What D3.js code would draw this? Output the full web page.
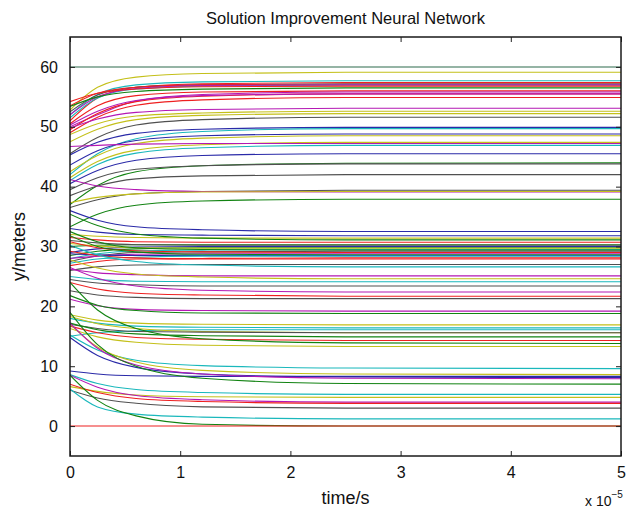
<!DOCTYPE html>
<html>
<head>
<meta charset="utf-8">
<script src="https://cdn.jsdelivr.net/npm/d3@7/dist/d3.min.js"></script>
<style>
  body { margin: 0; background: #fff; }
  svg { display: block; font-family: "Liberation Sans", Arial, sans-serif; }
</style>
</head>
<body>
<svg id="chart" width="627" height="509"></svg>
<script>
const timeSamples = [0, 0.25, 0.6, 1.2, 2.5, 5];
const xTicks = [0, 1, 2, 3, 4, 5];
const yTicks = [0, 10, 20, 30, 40, 50, 60];

// MATLAB colour letters
const palette = {
    b: '#2a2aa8', g: '#128312', r: '#ee2020', c: '#1ab8bc',
    m: '#b418b4', y: '#c4c01a', k: '#505050', d: '#2c6a4c'
};

const colorKeys = [
    'd', 'y', 'c', 'r', 'k', 'r', 'c', 'm', 'r', 'g', 'r', 'm', 'r', 'm', 'r',
    'm', 'y', 'y', 'k', 'b', 'c', 'b', 'y', 'y', 'm', 'c', 'b', 'g', 'k', 'k',
    'k', 'm', 'y', 'g',
    'b', 'b', 'y', 'g', 'r', 'g', 'k', 'b', 'g', 'y', 'c', 'g', 'k', 'r', 'm',
    'g', 'b', 'c', 'r', 'r', 'k', 'c', 'm', 'y', 'c', 'k', 'm', 'r', 'k',
    'm', 'g', 'y', 'c', 'c', 'y', 'k', 'g', 'r', 'g', 'y',
    'c', 'y', 'b', 'b', 'm', 'g', 'c', 'y', 'm', 'r', 'k', 'c', 'g', 'r'
];

const seriesValues = [
    [60, 60, 60, 60, 60, 60],
    [52.8, 56.6, 58.3, 58.9, 59.1, 59.1],
    [52.0, 55.4, 57.0, 57.5, 57.7, 57.7],
    [51.0, 54.8, 56.6, 57.2, 57.4, 57.4],
    [52.5, 55.3, 56.6, 57.0, 57.2, 57.2],
    [53.5, 55.6, 56.6, 57.0, 57.1, 57.1],
    [51.5, 54.8, 56.3, 56.8, 57.0, 57.0],
    [52.0, 55.0, 56.4, 56.9, 57.0, 57.0],
    [54.2, 55.6, 56.3, 56.7, 56.8, 56.8],
    [53.4, 55.0, 55.9, 56.3, 56.5, 56.5],
    [50.5, 53.5, 55.2, 55.8, 56.0, 56.0],
    [50.0, 52.0, 54.3, 55.4, 55.8, 55.8],
    [49.5, 52.2, 54.2, 55.1, 55.5, 55.5],
    [50.3, 52.6, 54.4, 55.2, 55.5, 55.5],
    [49.0, 51.6, 53.6, 54.5, 54.9, 54.9],
    [49.8, 51.3, 52.4, 52.9, 53.1, 53.1],
    [48.7, 50.5, 51.8, 52.3, 52.6, 52.6],
    [47.5, 49.6, 51.2, 51.9, 52.2, 52.2],
    [45.5, 48.2, 50.3, 51.2, 51.6, 51.6],
    [45.3, 47.4, 48.9, 49.6, 49.9, 49.9],
    [42.0, 45.5, 48.0, 49.2, 49.7, 49.7],
    [43.6, 46.0, 47.7, 48.5, 48.8, 48.8],
    [42.5, 45.2, 47.2, 48.1, 48.5, 48.5],
    [41.5, 44.2, 46.1, 47.0, 47.4, 47.4],
    [46.7, 46.9, 47.1, 47.2, 47.2, 47.2],
    [41.0, 43.7, 45.6, 46.5, 46.9, 46.9],
    [40.5, 42.7, 44.4, 45.2, 45.5, 45.5],
    [37.0, 40.2, 42.5, 43.5, 43.9, 44.0],
    [39.5, 41.5, 42.9, 43.5, 43.8, 43.8],
    [38.5, 40.1, 41.3, 41.8, 42.0, 42.0],
    [36.5, 37.8, 38.8, 39.2, 39.4, 39.4],
    [41.2, 40.1, 39.5, 39.2, 39.1, 39.1],
    [37.3, 38.2, 38.8, 39.1, 39.2, 39.2],
    [33.3, 35.4, 36.9, 37.6, 37.9, 37.9],
    // middle cluster
    [36.0, 34.4, 33.3, 32.8, 32.5, 32.5],
    [33.0, 32.4, 32.0, 31.9, 31.8, 31.8],
    [32.0, 31.7, 31.5, 31.4, 31.4, 31.4],
    [35.4, 33.5, 32.1, 31.4, 31.1, 31.1],
    [31.5, 31.1, 30.8, 30.7, 30.7, 30.7],
    [30.0, 30.2, 30.3, 30.3, 30.3, 30.3],
    [31.0, 30.6, 30.3, 30.2, 30.2, 30.2],
    [29.0, 29.6, 29.9, 30.0, 30.0, 30.0],
    [28.5, 29.2, 29.6, 29.8, 29.8, 29.8],
    [30.5, 30.1, 29.8, 29.7, 29.7, 29.7],
    [28.0, 28.8, 29.3, 29.4, 29.5, 29.5],
    [32.5, 30.8, 29.8, 29.5, 29.4, 29.4],
    [27.5, 28.4, 29.0, 29.1, 29.2, 29.2],
    [30.8, 29.8, 29.3, 29.1, 29.0, 29.0],
    [28.0, 28.4, 28.7, 28.8, 28.8, 28.8],
    [31.8, 30.0, 29.1, 28.7, 28.6, 28.6],
    [28.8, 28.6, 28.5, 28.5, 28.5, 28.5],
    [27.2, 27.9, 28.2, 28.4, 28.4, 28.4],
    [26.8, 27.5, 27.9, 28.0, 28.1, 28.1],
    [29.2, 28.5, 28.1, 27.9, 27.9, 27.9],
    [26.0, 26.6, 26.9, 27.0, 27.0, 27.0],
    [30.2, 28.6, 27.5, 26.9, 26.6, 26.6],
    [26.2, 25.6, 25.3, 25.1, 25.1, 25.1],
    [27.8, 26.4, 25.4, 24.9, 24.6, 24.6],
    [25.0, 24.5, 24.2, 24.1, 24.1, 24.1],
    [24.5, 23.9, 23.6, 23.4, 23.4, 23.4],
    [26.5, 24.7, 23.4, 22.7, 22.4, 22.4],
    [24.0, 22.9, 22.2, 21.9, 21.7, 21.7],
    [22.6, 21.9, 21.5, 21.3, 21.3, 21.3],
    // lower group
    [21.2, 20.1, 19.5, 19.3, 19.2, 19.2],
    [21.8, 20.2, 19.3, 18.9, 18.8, 18.8],
    [18.6, 17.7, 17.2, 17.0, 16.9, 16.9],
    [18.0, 17.2, 16.7, 16.5, 16.4, 16.4],
    [15.0, 15.6, 15.9, 16.1, 16.1, 16.1],
    [18.3, 17.1, 16.3, 15.8, 15.6, 15.6],
    [17.0, 16.3, 15.8, 15.7, 15.6, 15.6],
    [17.2, 16.1, 15.4, 15.1, 14.9, 14.9],
    [16.7, 15.6, 14.8, 14.5, 14.3, 14.3],
    [24.0, 19.4, 16.3, 14.6, 13.9, 13.8],
    [16.3, 14.9, 14.0, 13.5, 13.3, 13.3],
    [15.2, 12.7, 11.0, 10.1, 9.7, 9.6],
    [17.0, 13.2, 10.7, 9.3, 8.7, 8.6],
    [9.2, 8.7, 8.4, 8.3, 8.3, 8.3],
    [14.8, 11.8, 9.8, 8.7, 8.2, 8.1],
    [17.2, 13.0, 10.2, 8.7, 8.0, 7.9],
    [19.0, 13.6, 10.0, 8.0, 7.1, 7.0],
    [8.6, 7.1, 6.1, 5.6, 5.3, 5.3],
    [6.6, 5.8, 5.2, 4.9, 4.8, 4.8],
    [8.5, 6.5, 5.1, 4.4, 4.0, 4.0],
    [7.0, 5.6, 4.6, 4.1, 3.8, 3.8],
    [6.0, 4.7, 3.8, 3.2, 3.0, 3.0],
    [6.2, 3.2, 2.0, 1.5, 1.2, 1.2],
    [8.5, 4.3, 1.7, 0.3, 0, 0],
    [0, 0, 0, 0, 0, 0]
];

const svg = d3.select('#chart');
const margin = { left: 70, right: 6, top: 37, bottom: 53 };
const width = 627 - margin.left - margin.right;
const height = 509 - margin.top - margin.bottom;

const x = d3.scaleLinear().domain([0, 5]).range([0, width]);
const y = d3.scaleLinear().domain([-5, 65]).range([height, 0]);

const g = svg.append('g')
    .attr('transform', `translate(${margin.left},${margin.top})`);

// Clip lines to the axes box
g.append('clipPath').attr('id', 'plot-clip')
    .append('rect').attr('width', width).attr('height', height);

const line = d3.line()
    .x((d, i) => x(timeSamples[i]))
    .y(d => y(d))
    .curve(d3.curveMonotoneX);

g.append('g')
    .attr('clip-path', 'url(#plot-clip)')
    .selectAll('path')
    .data(seriesValues)
    .enter()
    .append('path')
    .attr('fill', 'none')
    .attr('stroke', (d, i) => palette[colorKeys[i]])
    .attr('stroke-width', 1.1)
    .attr('d', line);

// Axes, ticks pointing inward like MATLAB
const tickLen = 5;
const styleAxis = sel => {
    sel.select('.domain').remove();
    sel.selectAll('.tick line').attr('stroke', '#222');
    sel.selectAll('.tick text')
        .attr('fill', '#111')
        .attr('font-size', '16px');
};

g.append('g')
    .attr('transform', `translate(0,${height})`)
    .call(d3.axisBottom(x).tickValues(xTicks).tickFormat(d3.format('d'))
        .tickSizeInner(-tickLen).tickSizeOuter(0).tickPadding(11))
    .call(styleAxis);

g.append('g')
    .call(d3.axisTop(x).tickValues(xTicks).tickFormat('')
        .tickSizeInner(-tickLen).tickSizeOuter(0))
    .call(styleAxis);

g.append('g')
    .call(d3.axisLeft(y).tickValues(yTicks).tickFormat(d3.format('d'))
        .tickSizeInner(-tickLen).tickSizeOuter(0).tickPadding(12))
    .call(styleAxis);

g.append('g')
    .attr('transform', `translate(${width},0)`)
    .call(d3.axisRight(y).tickValues(yTicks).tickFormat('')
        .tickSizeInner(-tickLen).tickSizeOuter(0))
    .call(styleAxis);

// Box
g.append('rect')
    .attr('width', width)
    .attr('height', height)
    .attr('fill', 'none')
    .attr('stroke', '#1a1a1a')
    .attr('stroke-width', 1.5);

// Title and labels
svg.append('text')
    .attr('x', margin.left + width / 2)
    .attr('y', 24)
    .attr('text-anchor', 'middle')
    .attr('font-size', '16.5px')
    .attr('fill', '#111')
    .text('Solution Improvement Neural Network');

svg.append('text')
    .attr('x', margin.left + width / 2)
    .attr('y', 504)
    .attr('text-anchor', 'middle')
    .attr('font-size', '18px')
    .attr('fill', '#111')
    .text('time/s');

svg.append('text')
    .attr('transform', `translate(25,${margin.top + height / 2}) rotate(-90)`)
    .attr('text-anchor', 'middle')
    .attr('font-size', '18px')
    .attr('fill', '#111')
    .text('y/meters');

// Exponent note
const expo = svg.append('text')
    .attr('x', 585)
    .attr('y', 506)
    .attr('font-size', '14px')
    .attr('fill', '#111');
expo.append('tspan').text('x 10');
expo.append('tspan')
    .attr('dy', -8)
    .attr('font-size', '10px')
    .text('\u22125');
</script>
</body>
</html>
